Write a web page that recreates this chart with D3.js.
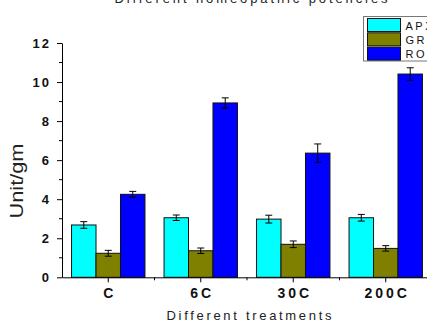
<!DOCTYPE html>
<html>
<head>
<meta charset="utf-8">
<script src="https://cdn.jsdelivr.net/npm/d3@7"></script>
<style>
  body { margin: 0; background: #fff; }
  svg { display: block; font-family: Arial, "Liberation Sans", sans-serif; }
</style>
</head>
<body>
<svg width="427" height="326"></svg>
<script>
"use strict";

// data
const treatments = ["C", "6C", "30C", "200C"];
const series = ["APX", "GR", "ROS"];
const apxValues = [2.68, 3.05, 2.98, 3.05];
const apxErrors = [0.17, 0.14, 0.2, 0.17];
const grValues = [1.23, 1.36, 1.69, 1.48];
const grErrors = [0.15, 0.14, 0.17, 0.14];
const roValues = [4.25, 8.93, 6.36, 10.41];
const roErrors = [0.15, 0.26, 0.47, 0.32];
const yTicks = [0, 2, 4, 6, 8, 10, 12];
const colors = ["#00ffff", "#808000", "#0000ff"];

const svg = d3.select("svg");

const x = d3.scaleBand().domain(treatments).range([62, 432]).padding(0);
const xs = d3.scaleBand().domain(series).range([0, x.bandwidth()])
  .paddingInner(0).paddingOuter(0.39);
const y = d3.scaleLinear().domain([0, 12]).range([277.3, 43]);
const color = d3.scaleOrdinal().domain(series).range(colors);

const rows = [];
treatments.forEach((t, i) => {
  rows.push({ t, s: "APX", v: apxValues[i], e: apxErrors[i] });
  rows.push({ t, s: "GR", v: grValues[i], e: grErrors[i] });
  rows.push({ t, s: "ROS", v: roValues[i], e: roErrors[i] });
});

/////////////////////////////////
// bars
/////////////////////////////////
svg.append("g")
  .selectAll("rect")
  .data(rows)
  .enter()
  .append("rect")
  .attr("x", (d) => x(d.t) + xs(d.s))
  .attr("y", (d) => y(d.v))
  .attr("width", xs.bandwidth())
  .attr("height", (d) => y(0) - y(d.v))
  .attr("fill", (d) => color(d.s))
  .attr("stroke", "#111")
  .attr("stroke-width", 1);

// error bars
const err = svg.append("g").attr("stroke", "#000").attr("stroke-width", 1);
rows.forEach((d) => {
  const cx = x(d.t) + xs(d.s) + xs.bandwidth() / 2;
  err.append("line").attr("x1", cx).attr("x2", cx)
    .attr("y1", y(d.v + d.e)).attr("y2", y(d.v - d.e));
  [d.v + d.e, d.v - d.e].forEach((v) => {
    err.append("line").attr("x1", cx - 3.5).attr("x2", cx + 3.5)
      .attr("y1", y(v)).attr("y2", y(v));
  });
});

/////////////////////////////////
// axes
/////////////////////////////////
const yAxis = svg.append("g")
  .attr("transform", "translate(62,0)")
  .call(d3.axisLeft(y).tickValues(yTicks).tickSize(5).tickSizeOuter(0).tickPadding(6));
yAxis.select(".domain").attr("stroke", "#000");
yAxis.selectAll("text")
  .attr("font-size", 13).attr("font-weight", "bold")
  .attr("letter-spacing", 2).attr("fill", "#111");

// minor y ticks
svg.append("g")
  .selectAll("line")
  .data(d3.range(1, 12, 2))
  .enter()
  .append("line")
  .attr("x1", 59).attr("x2", 62)
  .attr("y1", (d) => y(d)).attr("y2", (d) => y(d))
  .attr("stroke", "#000");

const xAxis = svg.append("g")
  .attr("transform", `translate(0,${y(0)})`)
  .call(d3.axisBottom(x).tickSize(5).tickSizeOuter(0).tickPadding(6));
xAxis.select(".domain").attr("stroke", "#000");
xAxis.selectAll("text")
  .attr("font-size", 14).attr("font-weight", "bold")
  .attr("letter-spacing", 3).attr("fill", "#111")
  .attr("dx", 1.5);

// minor x ticks at group boundaries
svg.append("g")
  .selectAll("line")
  .data(treatments.slice(1))
  .enter()
  .append("line")
  .attr("x1", (d) => x(d)).attr("x2", (d) => x(d))
  .attr("y1", y(0)).attr("y2", y(0) + 3)
  .attr("stroke", "#000");

/////////////////////////////////
// titles
/////////////////////////////////
svg.append("text")
  .attr("x", 251).attr("y", 3)
  .attr("text-anchor", "middle")
  .attr("font-size", 13)
  .attr("textLength", 273).attr("lengthAdjust", "spacing")
  .attr("fill", "#222")
  .text("Different homeopathic potencies");

svg.append("text")
  .attr("x", 249).attr("y", 320)
  .attr("text-anchor", "middle")
  .attr("font-size", 13)
  .attr("textLength", 165).attr("lengthAdjust", "spacing")
  .attr("fill", "#222")
  .text("Different treatments");

svg.append("text")
  .attr("transform", "translate(23,181) rotate(-90)")
  .attr("text-anchor", "middle")
  .attr("font-size", 18)
  .attr("textLength", 75).attr("lengthAdjust", "spacingAndGlyphs")
  .attr("fill", "#222")
  .text("Unit/gm");

/////////////////////////////////
// legend
/////////////////////////////////
const legend = svg.append("g").attr("transform", "translate(363.5,16.5)");
legend.append("rect")
  .attr("width", 80).attr("height", 44.5)
  .attr("fill", "#fff").attr("stroke", "#777").attr("stroke-width", 1);
series.forEach((s, i) => {
  legend.append("rect")
    .attr("x", 4).attr("y", 2 + i * 14.3)
    .attr("width", 33).attr("height", 13)
    .attr("fill", color(s)).attr("stroke", "#111");
  legend.append("text")
    .attr("x", 42).attr("y", 13 + i * 14.3)
    .attr("font-size", 11).attr("letter-spacing", 2.5)
    .attr("fill", "#111")
    .text(s);
});
</script>
</body>
</html>
